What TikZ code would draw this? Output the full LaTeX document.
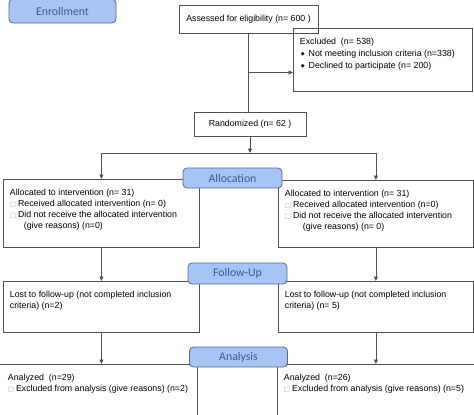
\documentclass[tikz,border=0pt]{standalone}
\usepackage{fontspec}
\setmainfont{Liberation Sans}
\newfontfamily\labelfont{Carlito}
\newfontfamily\symfont{DejaVu Sans}
\usetikzlibrary{arrows.meta,calc,positioning}

\definecolor{frame}{HTML}{505050}
\definecolor{stagefill}{HTML}{A8C4F4}
\definecolor{stageline}{HTML}{56698C}
\definecolor{stagetext}{HTML}{3A5A9C}

\newcommand{\bodyfont}{\fontsize{8.8}{10.8}\selectfont}
\newcommand{\dmd}{{\symfont\fontsize{5}{5}\selectfont\raisebox{.8pt}{◆}}\hspace{4pt}}
\newcommand{\sqr}{{\color{gray!70}\symfont\fontsize{6.5}{6.5}\selectfont □}\hspace{2pt}}
\newcommand{\celltext}[3]{\begin{minipage}[t][#2][t]{#1}\raggedright\leftskip=6.5pt\vspace*{10pt}#3\end{minipage}}

\begin{document}
\begin{tikzpicture}[x=1pt, y=-1pt, >={Triangle[length=4.5pt,width=4pt]},
  cell/.style={draw=frame, line width=.8pt, anchor=north west, inner sep=0pt, font=\bodyfont},
  single/.style={draw=frame, line width=.8pt, inner sep=0pt, font=\bodyfont},
  stage/.style={draw=stageline, line width=.8pt, fill=stagefill, rounded corners=4pt,
    text=stagetext, inner sep=0pt, font=\labelfont\fontsize{11.8}{12}\selectfont},
  link/.style={draw=frame, line width=.8pt}]
  \useasboundingbox (0,0) rectangle (474,415);
  \clip (0,0) rectangle (474,415);

  % enrollment
  \node[single, minimum width=139pt, minimum height=28pt] (assess) at (248.5,19) {Assessed for eligibility (n= 600 )};
  \node[cell, font=\fontsize{8.8}{11.8}\selectfont] (excl) at (293,28) {\celltext{179pt}{63pt}{Excluded\ \ (n= 538)\\
    \hspace*{1pt}\dmd Not meeting inclusion criteria (n=338)\\
    \hspace*{1pt}\dmd Declined to participate (n= 200)}};
  \node[single, minimum width=112pt, minimum height=24pt] (rand) at (250,124) {Randomized (n= 62 )};
  \coordinate (split) at (250,153);

  % allocation
  \node[cell] (allocL) at (3,179) {\celltext{196pt}{68pt}{Allocated to intervention (n= 31)\\
    \sqr Received allocated intervention (n= 0)\\
    \sqr Did not receive the allocated intervention\\
    \hspace*{14pt}(give reasons) (n=0)}};
  \node[cell] (allocR) at (278,180) {\celltext{195pt}{67pt}{Allocated to intervention (n= 31)\\
    \sqr Received allocated intervention (n=0)\\
    \sqr Did not receive the allocated intervention\\
    \hspace*{18pt}(give reasons) (n= 0)}};

  % follow-up
  \node[cell] (fupL) at (3,281) {\celltext{196pt}{51pt}{Lost to follow-up (not completed inclusion\\
    criteria) (n=2)}};
  \node[cell] (fupR) at (278,281) {\celltext{195pt}{51pt}{Lost to follow-up (not completed inclusion\\
    criteria) (n= 5)}};

  % analysis
  \node[cell] (anaL) at (-1,364) {\celltext{198pt}{70pt}{\hspace*{2pt}Analyzed\ \ (n=29)\\
    \hspace*{2pt}\sqr Excluded from analysis (give reasons) (n=2)}};
  \node[cell] (anaR) at (277,364) {\celltext{200pt}{70pt}{Analyzed\ \ (n=26)\\
    \sqr Excluded from analysis (give reasons) (n=5)}};

  % connectors
  \coordinate (branch) at ($(assess.south)!.5!(assess.south |- rand.north)$);
  \path[link] (assess.south) -- (assess.south |- rand.north);
  \path[link,->] (branch) -- (branch -| excl.west);
  \path[link,->] (rand.south) -- (split);
  \path[link] (allocL.north |- split) -- (allocR.north |- split);
  \path[link,->] (allocL.north |- split) -- (allocL.north);
  \path[link,->] (allocR.north |- split) -- (allocR.north);
  \path[link,->] (allocL.south) -- (fupL.north);
  \path[link,->] (allocR.south) -- (fupR.north);
  \path[link,->] (fupL.south) -- (fupL.south |- anaL.north);
  \path[link,->] (fupR.south) -- (fupR.south |- anaR.north);

  % stage labels
  \node[stage, minimum width=107pt, minimum height=24pt] (enrollLab) at (62.5,11) {Enrollment};
  \node[stage, minimum width=99pt, minimum height=20pt] (allocLab) at (232.5,178) {Allocation};
  \node[stage, minimum width=99pt, minimum height=21pt] (fupLab) at (237.5,273.5) {Follow-Up};
  \node[stage, minimum width=98pt, minimum height=20pt] (anaLab) at (238.5,357) {Analysis};
\end{tikzpicture}
\end{document}
